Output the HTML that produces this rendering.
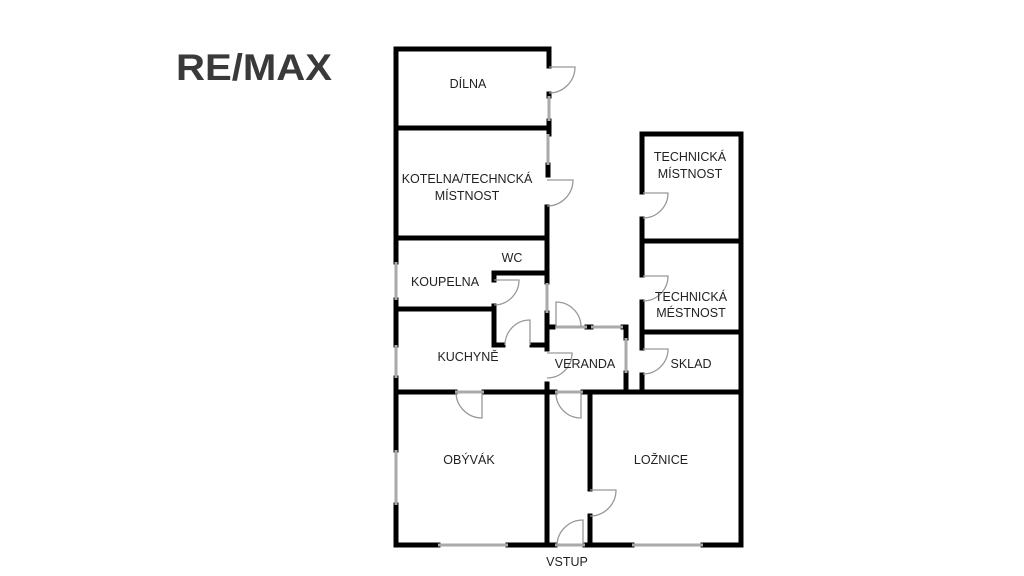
<!DOCTYPE html>
<html><head><meta charset="utf-8"><style>
html,body{margin:0;padding:0;background:#fff;width:1024px;height:576px;overflow:hidden}
svg{display:block}
text{font-family:"Liberation Sans",sans-serif;font-size:12.5px;fill:#222;text-anchor:middle}
</style></head><body>
<svg width="1024" height="576" viewBox="0 0 1024 576">
<text x="176" y="80" style="font-size:37px;font-weight:bold;fill:#3a3a3a;text-anchor:start" textLength="156" lengthAdjust="spacingAndGlyphs">RE/MAX</text>
<g stroke="#000" stroke-width="5" stroke-linecap="square" fill="none">
<line x1="396" y1="49" x2="549" y2="49"/>
<line x1="396" y1="49" x2="396" y2="262"/>
<line x1="396" y1="300" x2="396" y2="345"/>
<line x1="396" y1="378" x2="396" y2="450"/>
<line x1="396" y1="505" x2="396" y2="545"/>
<line x1="549" y1="49" x2="549" y2="66"/>
<line x1="549" y1="94" x2="549" y2="96"/>
<line x1="549" y1="121" x2="549" y2="134"/>
<line x1="548" y1="165" x2="548" y2="175"/>
<line x1="547" y1="207" x2="547" y2="282"/>
<line x1="396" y1="128" x2="549" y2="128"/>
<line x1="396" y1="238" x2="547" y2="238"/>
<line x1="494" y1="273" x2="547" y2="273"/>
<line x1="494" y1="273" x2="494" y2="280"/>
<line x1="494" y1="306" x2="494" y2="345"/>
<line x1="396" y1="309" x2="494" y2="309"/>
<line x1="494" y1="345" x2="503" y2="345"/>
<line x1="532" y1="345" x2="547" y2="345"/>
<line x1="547" y1="313" x2="547" y2="349"/>
<line x1="547" y1="384" x2="547" y2="545"/>
<line x1="547" y1="327" x2="553" y2="327"/>
<line x1="587" y1="327" x2="591" y2="327"/>
<line x1="623" y1="327" x2="626" y2="327"/>
<line x1="626" y1="327" x2="626" y2="338"/>
<line x1="626" y1="373" x2="626" y2="392"/>
<line x1="396" y1="392" x2="455" y2="392"/>
<line x1="484" y1="392" x2="555" y2="392"/>
<line x1="583" y1="392" x2="741" y2="392"/>
<line x1="590" y1="392" x2="590" y2="489"/>
<line x1="590" y1="516" x2="590" y2="545"/>
<line x1="642" y1="134" x2="741" y2="134"/>
<line x1="741" y1="134" x2="741" y2="545"/>
<line x1="642" y1="134" x2="642" y2="192"/>
<line x1="642" y1="219" x2="642" y2="275"/>
<line x1="642" y1="302" x2="642" y2="348"/>
<line x1="642" y1="375" x2="642" y2="392"/>
<line x1="642" y1="241" x2="741" y2="241"/>
<line x1="642" y1="332" x2="741" y2="332"/>
<line x1="396" y1="545" x2="438" y2="545"/>
<line x1="508" y1="545" x2="555" y2="545"/>
<line x1="585" y1="545" x2="632" y2="545"/>
<line x1="703" y1="545" x2="741" y2="545"/>
</g>
<g stroke="#aaa" stroke-width="3" fill="none">
<line x1="396" y1="262" x2="396" y2="300"/>
<line x1="396" y1="345" x2="396" y2="378"/>
<line x1="396" y1="450" x2="396" y2="505"/>
<line x1="549" y1="96" x2="549" y2="121"/>
<line x1="548" y1="134" x2="548" y2="165"/>
<line x1="547" y1="283" x2="547" y2="313"/>
<line x1="591" y1="327" x2="623" y2="327"/>
<line x1="626" y1="338" x2="626" y2="373"/>
<line x1="438" y1="545" x2="508" y2="545"/>
<line x1="632" y1="545" x2="703" y2="545"/>
<line x1="556" y1="327" x2="587" y2="327"/>
<line x1="455" y1="392" x2="484" y2="392"/>
<line x1="555" y1="392" x2="583" y2="392"/>
<line x1="555" y1="545" x2="585" y2="545"/>
</g>
<g stroke="#999" stroke-width="1.3" fill="none">
<path d="M549,67 L575,67 A26,26 0 0 1 549,93"/>
<path d="M547,180 L573,180 A26,26 0 0 1 547,206"/>
<path d="M643,193 L668,193 A25,25 0 0 1 643,218"/>
<path d="M643,276 L668,276 A25,25 0 0 1 643,301"/>
<path d="M643,349 L668,349 A25,25 0 0 1 643,374"/>
<path d="M494,280 L519,280 A25,25 0 0 1 494,305"/>
<path d="M530,345 L530,320 A25,25 0 0 0 505,345"/>
<path d="M556,327 L556,302 A25,25 0 0 1 581,327"/>
<path d="M547,353 L572,353 A25,25 0 0 1 547,378"/>
<path d="M482,392 L482,418 A26,26 0 0 1 456,392"/>
<path d="M581,392 L581,418 A25,25 0 0 1 556,392"/>
<path d="M590,490 L616,490 A26,26 0 0 1 590,516"/>
<path d="M583,545 L583,520 A26,26 0 0 0 557,545"/>
</g>
<text x="468" y="88">DÍLNA</text>
<text x="467" y="183">KOTELNA/TECHNCKÁ</text>
<text x="467" y="200">MÍSTNOST</text>
<text x="512" y="262">WC</text>
<text x="445" y="286">KOUPELNA</text>
<text x="468" y="361">KUCHYNĚ</text>
<text x="585" y="368">VERANDA</text>
<text x="690" y="161">TECHNICKÁ</text>
<text x="690" y="178">MÍSTNOST</text>
<text x="691" y="301">TECHNICKÁ</text>
<text x="691" y="317">MÉSTNOST</text>
<text x="691" y="368">SKLAD</text>
<text x="469" y="464">OBÝVÁK</text>
<text x="661" y="464">LOŽNICE</text>
<text x="567" y="566">VSTUP</text>
</svg>
</body></html>
